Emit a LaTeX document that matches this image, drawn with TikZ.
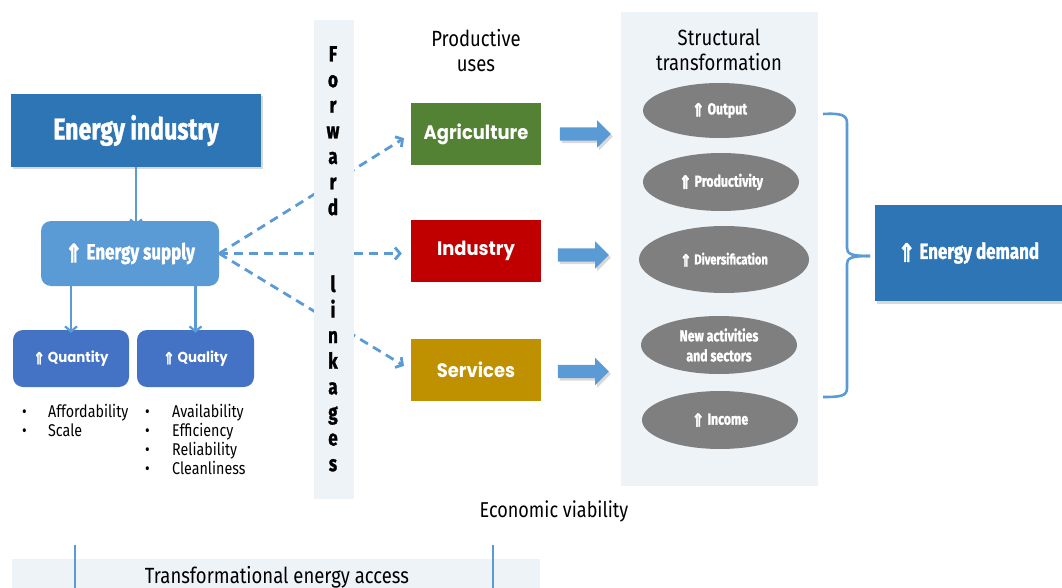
\documentclass[tikz,border=0pt]{standalone}
\usepackage{fontspec}
\setmainfont[FakeStretch=0.84]{Fira Sans}
\newfontfamily\condb[FakeStretch=0.77, FakeBold=1.3]{Fira Sans}
\newfontfamily\heavyf[FakeStretch=0.92]{Poppins}
\newfontfamily\dv[FakeBold=2.5]{DejaVu Sans}
\newcommand{\upar}{\raisebox{-0.13em}{\scalebox{0.95}[1.15]{\dv ⇑}}}
\usetikzlibrary{shapes.geometric,shapes.arrows,arrows.meta,shadows}
\definecolor{darkblue}{HTML}{2E75B6}
\definecolor{midblue}{HTML}{5B9BD5}
\definecolor{boxblue}{HTML}{4472C4}
\definecolor{paleband}{HTML}{EEF3F8}
\definecolor{agri}{HTML}{548235}
\definecolor{indus}{HTML}{C00000}
\definecolor{serv}{HTML}{BF9000}
\definecolor{ellgrey}{HTML}{7F7F7F}
\tikzset{
  shad/.style={drop shadow={opacity=0.3,shadow xshift=2pt,shadow yshift=-2.5pt}},
  bigbox/.style={rectangle, fill=darkblue, text=white, inner sep=0pt, shad,
    font=\condb\bfseries\fontsize{22}{22}\selectfont},
  rbox/.style={rectangle, rounded corners=10pt, inner sep=0pt, text=white},
  usebox/.style={rectangle, inner sep=0pt, text=white, minimum width=130pt, minimum height=62pt,
    font=\heavyf\bfseries\fontsize{19.5}{19.5}\selectfont},
  ell/.style={ellipse, fill=ellgrey, text=white, inner sep=0pt, align=center,
    font=\condb\bfseries\fontsize{16}{20}\selectfont},
  panel/.style={rectangle, fill=paleband, inner sep=0pt},
  plain/.style={inner sep=0pt, font=\fontsize{22}{25}\selectfont, align=center},
  letter/.style={inner sep=0pt, anchor=base, font=\condb\bfseries\fontsize{22}{22}\selectfont},
  bultxt/.style={inner sep=0pt, anchor=base west, font=\fontsize{17}{17}\selectfont},
  bularrow/.style={single arrow, fill=midblue, minimum height=51pt, inner sep=6.5pt,
    single arrow head extend=7pt, shad},
  link/.style={midblue, line width=2.8pt, dash pattern=on 9pt off 6pt,
    -{Straight Barb[length=5pt,width=12pt]}},
  conn/.style={midblue, line width=2.2pt, -{Straight Barb[length=5pt,width=12pt]}},
  bline/.style={midblue, line width=2.6pt}
}
\begin{document}
\begin{tikzpicture}[x=1pt,y=-1pt]
\useasboundingbox (0,0) rectangle (1062,588);

% left column
\node[bigbox, minimum width=250pt, minimum height=73pt,
  font=\condb\bfseries\fontsize{30}{30}\selectfont] (ind) at (136,130.5) {Energy industry};
\node[rbox, fill=midblue, minimum width=178pt, minimum height=65pt,
  font=\condb\bfseries\fontsize{22}{22}\selectfont] (sup) at (130,253.5) {\upar\ Energy supply};
\node[rbox, fill=boxblue, minimum width=116pt, minimum height=57pt,
  font=\heavyf\bfseries\fontsize{14.5}{14.5}\selectfont] (qty) at (71,358.5) {\upar\ Quantity};
\node[rbox, fill=boxblue, minimum width=117pt, minimum height=57pt,
  font=\heavyf\bfseries\fontsize{14.5}{14.5}\selectfont] (qly) at (195.5,358.5) {\upar\ Quality};

\draw[conn] (ind.south) -- ([yshift=-5pt]ind.south |- sup.north);
\draw[conn] (sup.south -| qty.north) -- ([yshift=-3pt]qty.north);
\draw[conn] (sup.south -| qly.north) -- ([yshift=-3pt]qly.north);

\foreach \t [count=\i from 0] in {Affordability,Scale} {
  \node[bultxt] (qb\i) at (22,417+19*\i) {\textbullet};
  \node[bultxt] (qt\i) at (48,417+19*\i) {\t};
}
\foreach \t [count=\i from 0] in {Availability,Efficiency,Reliability,Cleanliness} {
  \node[bultxt] (lb\i) at (145,417+19*\i) {\textbullet};
  \node[bultxt] (lt\i) at (172,417+19*\i) {\t};
}

% productive uses
\node[plain] (pu) at (476,50.5) {Productive\\uses};
\node[usebox, fill=agri] (agri) at (476,134) {Agriculture};
\node[usebox, fill=indus] (indu) at (476,251) {Industry};
\node[usebox, fill=serv] (serv) at (476,370) {Services};

% dashed linkages (behind band)
\draw[link, shorten >=8pt] (sup.east) -- (agri.west);
\draw[link, shorten >=9pt] (sup.east) -- (sup.east -| indu.west);
\draw[link, shorten >=8pt] (sup.east) -- (serv.west);

% forward linkages band
\node[panel, minimum width=40pt, minimum height=479pt] (fwd) at (334,259.5) {};
\foreach \ch [count=\i from 0] in {F,o,r,w,a,r,d} {
  \node[letter] (fa\i) at (333,61.5+25.6*\i) {\ch};
}
\foreach \ch [count=\i from 9] in {l,i,n,k,a,g,e,s} {
  \node[letter] (fb\i) at (333,61.5+25.6*\i) {\ch};
}

% block arrows
\node[bularrow] (ba1) at (582,134) {};
\node[bularrow] (ba2) at (580,255) {};
\node[bularrow] (ba3) at (580,371.5) {};

% structural transformation
\node[panel, minimum width=197pt, minimum height=474pt] (st) at (719.5,249) {};
\node[plain] (sttl) at (719,49.5) {Structural\\transformation};
\node[ell, minimum width=153pt, minimum height=55pt] (e1) at (719.5,110.5) {\upar\ Output};
\node[ell, minimum width=156pt, minimum height=58pt] (e2) at (721,182) {\upar\ Productivity};
\node[ell, minimum width=170pt, minimum height=67pt,
  font=\condb\bfseries\fontsize{14.5}{14.5}\selectfont] (e3) at (724,259.5) {\upar\ Diversification};
\node[ell, minimum width=156pt, minimum height=58pt] (e4) at (719,345) {New activities\\and sectors};
\node[ell, minimum width=156pt, minimum height=58pt] (e5) at (720,420) {\upar\ Income};

% brace
\coordinate (btop) at (823,114);
\coordinate (bbot) at (823,397);
\coordinate (btip) at (870,256);
\draw[bline] (btop) .. controls (841,113) and (847,115) .. (847,123) -- (847,248)
  .. controls (847,254) and (851,256) .. (btip);
\draw[bline] (btip) .. controls (851,256) and (847,258) .. (847,264) -- (847,388)
  .. controls (847,396) and (841,397) .. (bbot);

\node[bigbox, minimum width=187pt, minimum height=96pt] (dem) at (968.5,253) {\upar\ Energy demand};

% bottom
\node[plain, font=\fontsize{21.5}{21.5}\selectfont] (ev) at (554,511) {Economic viability};
\node[panel, minimum width=528pt, minimum height=29pt] (tea) at (276,573.5) {};
\node[plain, font=\fontsize{22}{22}\selectfont] (teat) at (277,577) {Transformational energy access};
\coordinate (v1a) at (75,545); \coordinate (v1b) at (75,588);
\coordinate (v2a) at (493,545); \coordinate (v2b) at (493,588);
\draw[bline] (v1a) -- (v1b);
\draw[bline] (v2a) -- (v2b);
\end{tikzpicture}
\end{document}
